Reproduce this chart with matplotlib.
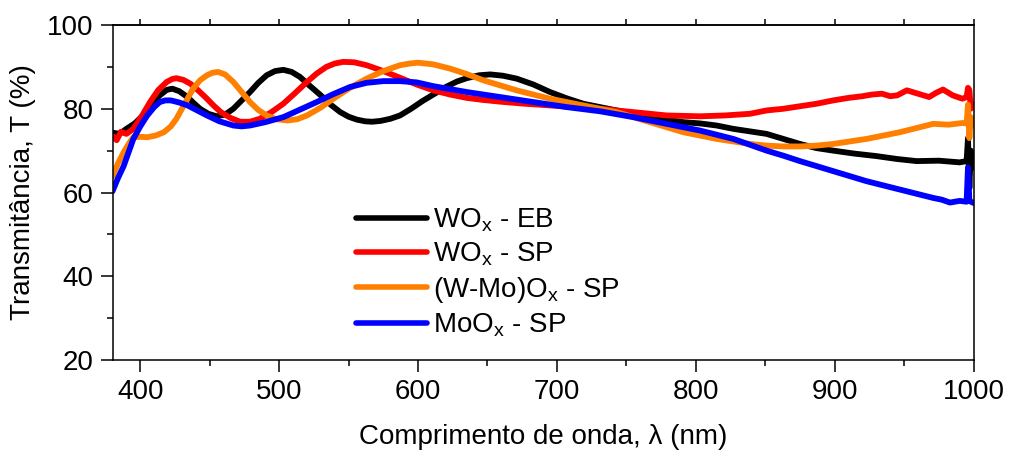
import matplotlib
matplotlib.use("Agg")
import matplotlib.pyplot as plt
from matplotlib.ticker import MultipleLocator

plt.rcParams['font.family'] = ['Liberation Sans', 'DejaVu Sans']
plt.rcParams['mathtext.fontset'] = 'custom'
plt.rcParams['mathtext.rm'] = 'Liberation Sans'
plt.rcParams['mathtext.it'] = 'Liberation Sans:italic'

# WOx - EB
wl_eb = [380, 385, 390, 396, 402, 408, 414, 419, 423, 428, 434, 438, 443, 449, 455, 461, 467, 473, 479,
         485, 491, 497, 503, 509, 515, 522, 530, 537, 544, 550, 556, 562, 567, 573, 580, 587, 595, 603,
         611, 620, 628, 635, 644, 652, 661, 671, 683, 695, 707, 719, 731, 743, 755, 767, 779, 791, 803,
         815, 827, 839, 851, 863, 875, 887, 899, 914, 930, 945, 959, 975, 990, 995, 996, 997, 998, 1000]
t_eb = [74.3, 74.0, 75.2, 76.5, 78.4, 81.0, 83.2, 84.5, 84.8, 84.2, 82.8, 81.5, 80.0, 78.8, 78.2, 78.6, 80.0, 82.0, 84.0,
        86.2, 88.0, 89.0, 89.3, 88.8, 87.6, 85.5, 83.2, 81.0, 79.2, 78.1, 77.4, 77.0, 76.9, 77.1, 77.6, 78.4, 80.0, 81.8,
        83.4, 85.2, 86.5, 87.3, 88.0, 88.2, 87.9, 87.2, 85.8, 84.0, 82.5, 81.2, 80.4, 79.6, 78.8, 78.0, 77.4, 76.8, 76.5,
        76.0, 75.2, 74.6, 74.0, 72.8, 71.6, 70.6, 70.0, 69.3, 68.7, 68.0, 67.5, 67.6, 67.2, 67.5, 73.0, 61.0, 70.0, 66.0]

# WOx - SP
wl_wsp = [380, 383, 386, 390, 395, 401, 407, 413, 419, 423, 426, 431, 436, 442, 448, 453, 458, 465, 472, 479,
          486, 494, 503, 511, 520, 527, 534, 540, 546, 554, 563, 575, 587, 599, 611, 623, 635, 647, 659, 677,
          695, 713, 731, 755, 779, 803, 821, 839, 851, 863, 875, 887, 899, 910, 920, 927, 934, 940, 945, 952,
          960, 968, 973, 978, 985, 992, 995, 996, 997, 998, 1000]
t_wsp = [73.5, 72.5, 74.5, 74.0, 75.2, 78.2, 81.6, 84.5, 86.4, 87.1, 87.3, 86.9, 86.0, 84.3, 82.4, 80.7, 79.2, 77.8, 76.9, 76.9,
         77.6, 79.1, 81.2, 83.6, 86.4, 88.4, 90.0, 90.8, 91.2, 91.1, 90.4, 89.0, 87.4, 85.8, 84.4, 83.4, 82.6, 82.1, 81.7, 81.2,
         80.8, 80.4, 80.0, 79.2, 78.4, 78.2, 78.4, 78.8, 79.6, 80.0, 80.6, 81.2, 82.0, 82.6, 83.0, 83.4, 83.6, 83.0, 83.2, 84.4,
         83.6, 82.8, 83.8, 84.6, 83.2, 82.4, 82.8, 85.0, 84.5, 80.0, 81.0]

# (W-Mo)Ox - SP
wl_wmo = [380, 384, 388, 392, 395, 400, 405, 411, 417, 422, 426, 432, 438, 443, 448, 452, 456, 461, 467, 473,
          479, 485, 491, 498, 506, 513, 520, 530, 539, 551, 563, 575, 587, 594, 600, 611, 623, 635, 647, 659,
          671, 683, 695, 707, 719, 731, 743, 755, 767, 779, 791, 803, 815, 827, 839, 851, 863, 875, 887, 899,
          911, 923, 935, 947, 959, 971, 982, 992, 995, 996, 997, 998, 1000]
t_wmo = [63.9, 67.0, 69.6, 71.8, 73.2, 73.3, 73.2, 73.6, 74.4, 75.8, 77.6, 81.2, 84.8, 86.8, 88.0, 88.6, 88.8, 88.2, 86.4, 84.0,
         81.6, 79.7, 78.4, 77.5, 77.2, 77.5, 78.4, 80.3, 82.4, 85.0, 87.2, 89.0, 90.4, 90.8, 91.0, 90.6, 89.6, 88.3, 86.8, 85.6,
         84.4, 83.4, 82.4, 81.6, 80.8, 80.0, 79.2, 78.0, 76.8, 75.6, 74.4, 73.6, 72.8, 72.2, 71.6, 71.2, 71.0, 71.0, 71.2, 71.6,
         72.2, 72.8, 73.6, 74.4, 75.4, 76.4, 76.2, 76.6, 76.5, 81.0, 73.0, 78.0, 76.0]

# MoOx - SP
wl_mo = [380, 384, 388, 392, 395, 400, 405, 410, 414, 418, 422, 428, 434, 441, 448, 457, 467, 473, 479, 490,
         503, 515, 527, 539, 551, 563, 575, 587, 599, 611, 623, 635, 647, 659, 671, 683, 695, 707, 719, 731,
         743, 755, 767, 779, 791, 803, 815, 827, 839, 851, 863, 875, 887, 899, 911, 923, 935, 947, 959, 971,
         977, 983, 990, 995, 996, 997, 1000]
t_mo = [60.3, 63.5, 66.3, 70.0, 72.8, 75.8, 78.4, 80.4, 81.6, 82.0, 82.0, 81.5, 80.8, 79.6, 78.4, 77.0, 76.0, 75.8, 76.0, 76.8,
        78.0, 79.8, 81.6, 83.5, 85.2, 86.2, 86.6, 86.6, 86.3, 85.4, 84.7, 84.0, 83.4, 82.8, 82.2, 81.6, 81.0, 80.4, 79.9, 79.4,
        78.7, 78.0, 77.2, 76.4, 75.6, 74.8, 73.8, 72.8, 71.4, 70.0, 68.8, 67.5, 66.3, 65.1, 63.9, 62.7, 61.7, 60.7, 59.7, 58.7,
        58.3, 57.6, 58.0, 57.8, 66.0, 58.0, 57.5]

series = [
    (wl_eb, t_eb, '#000000', r'WO$_{\mathrm{x}}$ - EB'),
    (wl_wsp, t_wsp, '#ff0000', r'WO$_{\mathrm{x}}$ - SP'),
    (wl_wmo, t_wmo, '#ff8000', r'(W-Mo)O$_{\mathrm{x}}$ - SP'),
    (wl_mo, t_mo, '#0000ff', r'MoO$_{\mathrm{x}}$ - SP'),
]

fig = plt.figure(figsize=(10.1, 4.5), dpi=100)
ax = fig.add_axes([0.1114, 0.2, 0.8525, 0.7444])

for wl, t, c, lab in series:
    ax.plot(wl, t, color=c, lw=4.2, label=lab, solid_joinstyle='round', solid_capstyle='round')

ax.set_xlim(380, 1000)
ax.set_ylim(20, 100)
ax.xaxis.set_major_locator(MultipleLocator(100))
ax.xaxis.set_minor_locator(MultipleLocator(50))
ax.yaxis.set_major_locator(MultipleLocator(20))
ax.yaxis.set_minor_locator(MultipleLocator(10))

fs = 20
ax.tick_params(which='major', direction='out', length=8.5, width=1.1, labelsize=fs, pad=5,
               top=False, right=False)
ax.tick_params(which='minor', direction='out', length=4.3, width=1.1, top=False, right=False)
# top ticks at every 50 (short)
secx = ax.secondary_xaxis('top')
secx.xaxis.set_major_locator(MultipleLocator(50))
secx.xaxis.set_minor_locator(plt.NullLocator())
secx.tick_params(which='major', direction='out', length=4.3, width=1.1, labeltop=False)
secx.spines['top'].set_linewidth(1.1)

for s in ax.spines.values():
    s.set_linewidth(1.1)

ax.set_xlabel('Comprimento de onda, λ (nm)', fontsize=fs, labelpad=14)
ax.set_ylabel('Transmitância, T (%)', fontsize=fs, labelpad=8)

leg = ax.legend(loc='upper left', bbox_to_anchor=(0.283, 0.458), frameon=False, fontsize=fs,
                handlelength=2.55, handletextpad=0.2, labelspacing=0.24, borderpad=0, borderaxespad=0)
for l in leg.get_lines():
    l.set_linewidth(4.0)

fig.savefig('out.png', dpi=100)
